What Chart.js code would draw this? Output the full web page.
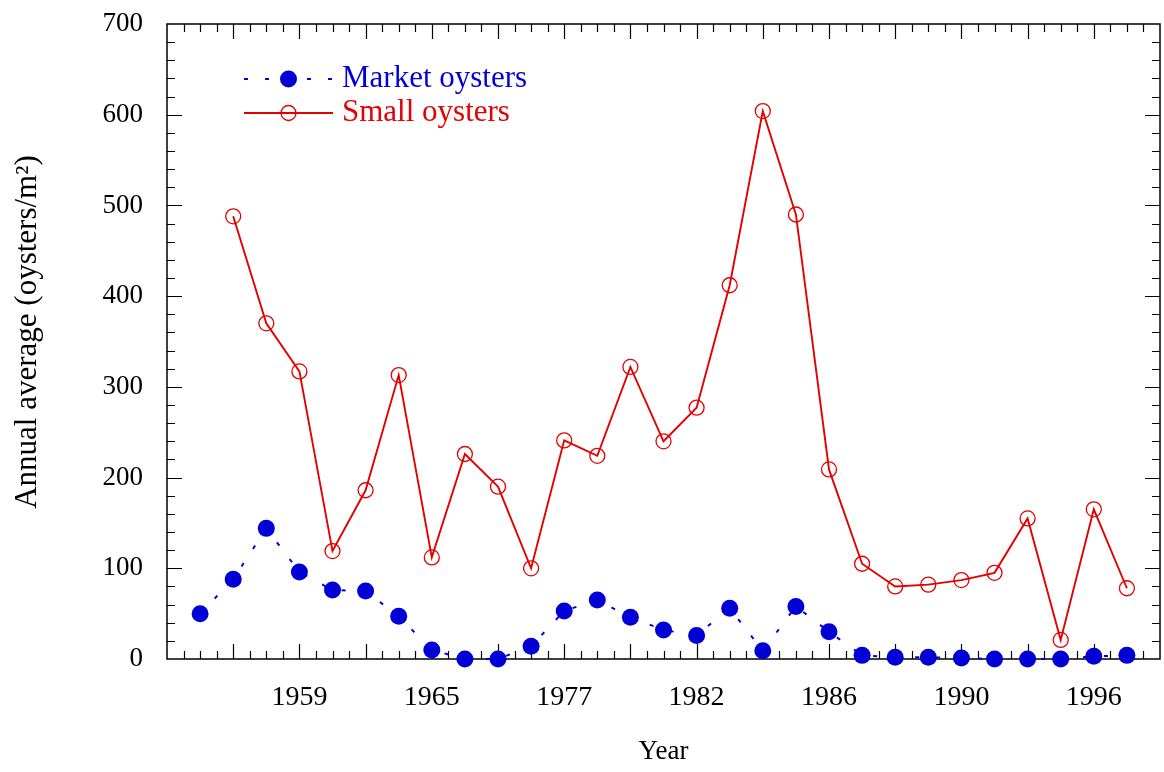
<!DOCTYPE html>
<html><head><meta charset="utf-8">
<script src="https://cdn.jsdelivr.net/npm/chart.js@4"></script>
<style>html,body{margin:0;padding:0;background:#fff;}canvas{display:block}</style>
</head><body>
<canvas id="c" width="1164" height="772"></canvas>
<script>
// Sample positions (ordinal survey index along the x axis)
const pointIndex = [1,2,3,4,5,6,7,8,9,10,11,12,13,14,15,16,17,18,19,20,21,22,23,24,25,26,27,28,29];
// Market oysters (oysters/m2)
const marketOysters = [50,88,144,96,76,75,47,10,0,0,14,53,65,46,32,26,56,9,58,30,4,2,2,1,0,0,0,3,4];
// Small oysters (oysters/m2); no value at the first position
const smallOysters = [null,488,370,317,119,186,313,112,226,190,100,241,224,322,240,277,412,604,490,209,105,80,82,87,95,155,21,165,78];
// x-axis tick labels and their positions
const tickPositions = [4,8,12,16,20,24,28];
const tickYears = ['1959','1965','1977','1982','1986','1990','1996'];
const yTickValues = [0,100,200,300,400,500,600,700];
const yTitle = 'Annual average (oysters/m²)';

const BLUE = '#0000d6';
const RED = '#e30000';
const FONT = "'Liberation Serif', 'Times New Roman', serif";

const toXY = arr => pointIndex.map((x, i) => ({x, y: arr[i]}));

const framePlugin = {
  id: 'frame',
  beforeDatasetsDraw(chart) {
    const {ctx, chartArea: a, scales: {x, y}} = chart;
    ctx.save();
    ctx.strokeStyle = '#000';
    ctx.lineWidth = 1.5;
    ctx.strokeRect(a.left, a.top, a.right - a.left, a.bottom - a.top);
    ctx.lineWidth = 1.2;
    ctx.beginPath();
    for (let v = 0.5; v < 30; v += 0.5) {
      const px = Math.round(x.getPixelForValue(v)) + 0.5;
      const len = (v % 2 === 0) ? 15 : 8;
      ctx.moveTo(px, a.bottom); ctx.lineTo(px, a.bottom - len);
      ctx.moveTo(px, a.top); ctx.lineTo(px, a.top + len);
    }
    for (let v = 20; v < 700; v += 20) {
      const py = Math.round(y.getPixelForValue(v)) + 0.5;
      const len = (v % 100 === 0) ? 15 : 8;
      ctx.moveTo(a.left, py); ctx.lineTo(a.left + len, py);
      ctx.moveTo(a.right, py); ctx.lineTo(a.right - len, py);
    }
    ctx.stroke();
    ctx.restore();
  },
  afterDraw(chart) {
    const {ctx} = chart;
    ctx.save();
    // y-axis title
    ctx.save();
    ctx.translate(28, 332);
    ctx.rotate(-Math.PI / 2);
    ctx.fillStyle = '#000';
    ctx.font = '31px ' + FONT;
    ctx.textAlign = 'center';
    ctx.textBaseline = 'middle';
    ctx.fillText(yTitle, 0, 0);
    ctx.restore();
    // legend
    const rows = [
      {ds: chart.data.datasets[0], y: 79},
      {ds: chart.data.datasets[1], y: 113}
    ];
    rows.forEach(r => {
      const ds = r.ds;
      ctx.strokeStyle = ds.borderColor;
      ctx.lineWidth = ds.borderWidth;
      ctx.setLineDash(ds.borderDash || []);
      ctx.beginPath();
      ctx.moveTo(244, r.y); ctx.lineTo(333, r.y);
      ctx.stroke();
      ctx.setLineDash([]);
      ctx.beginPath();
      ctx.arc(288.5, r.y, ds.pointRadius, 0, Math.PI * 2);
      ctx.fillStyle = ds.pointBackgroundColor;
      ctx.fill();
      ctx.strokeStyle = ds.pointBorderColor;
      ctx.lineWidth = ds.pointBorderWidth;
      if (ds.pointBorderWidth > 0) ctx.stroke();
      ctx.fillStyle = ds.borderColor;
      ctx.font = '31px ' + FONT;
      ctx.textBaseline = 'middle';
      ctx.textAlign = 'left';
      ctx.fillText(ds.label, 342, r.y);
    });
    ctx.restore();
  }
};

new Chart(document.getElementById('c'), {
  type: 'line',
  data: {
    datasets: [
      {
        label: 'Market oysters',
        data: toXY(marketOysters),
        borderColor: BLUE,
        borderWidth: 2,
        borderDash: [4, 17],
        pointRadius: 8.5,
        pointBackgroundColor: BLUE,
        pointBorderColor: BLUE,
        pointBorderWidth: 0,
        clip: false,
        tension: 0
      },
      {
        label: 'Small oysters',
        data: toXY(smallOysters),
        borderColor: RED,
        borderWidth: 1.9,
        pointRadius: 7.5,
        pointBackgroundColor: 'rgba(0,0,0,0)',
        pointBorderColor: RED,
        pointBorderWidth: 1.3,
        spanGaps: false,
        clip: false,
        tension: 0
      }
    ]
  },
  options: {
    responsive: false,
    animation: false,
    devicePixelRatio: 1,
    layout: {autoPadding: false, padding: {top: 24, right: 4, left: 0, bottom: 0}},
    plugins: {legend: {display: false}, tooltip: {enabled: false}},
    scales: {
      x: {
        type: 'linear', min: 0, max: 30,
        grid: {display: false, drawTicks: false},
        border: {display: false},
        afterBuildTicks: s => { s.ticks = tickPositions.map(v => ({value: v})); },
        afterFit: s => { s.height = 113; s.paddingLeft = 0; s.paddingRight = 0; },
        ticks: {
          autoSkip: false, maxRotation: 0, padding: 22,
          color: '#000', font: {family: FONT, size: 28},
          callback: v => tickYears[tickPositions.indexOf(v)]
        },
        title: {display: true, text: 'Year', color: '#000', font: {family: FONT, size: 27}, padding: {top: 22}}
      },
      y: {
        type: 'linear', min: 0, max: 700,
        grid: {display: false, drawTicks: false},
        border: {display: false},
        afterBuildTicks: s => { s.ticks = yTickValues.map(v => ({value: v})); },
        afterFit: s => { s.width = 167; s.paddingTop = 0; s.paddingBottom = 0; },
        ticks: {padding: 24, color: '#000', font: {family: FONT, size: 27}}
      }
    }
  },
  plugins: [framePlugin]
});
</script>
</body></html>
